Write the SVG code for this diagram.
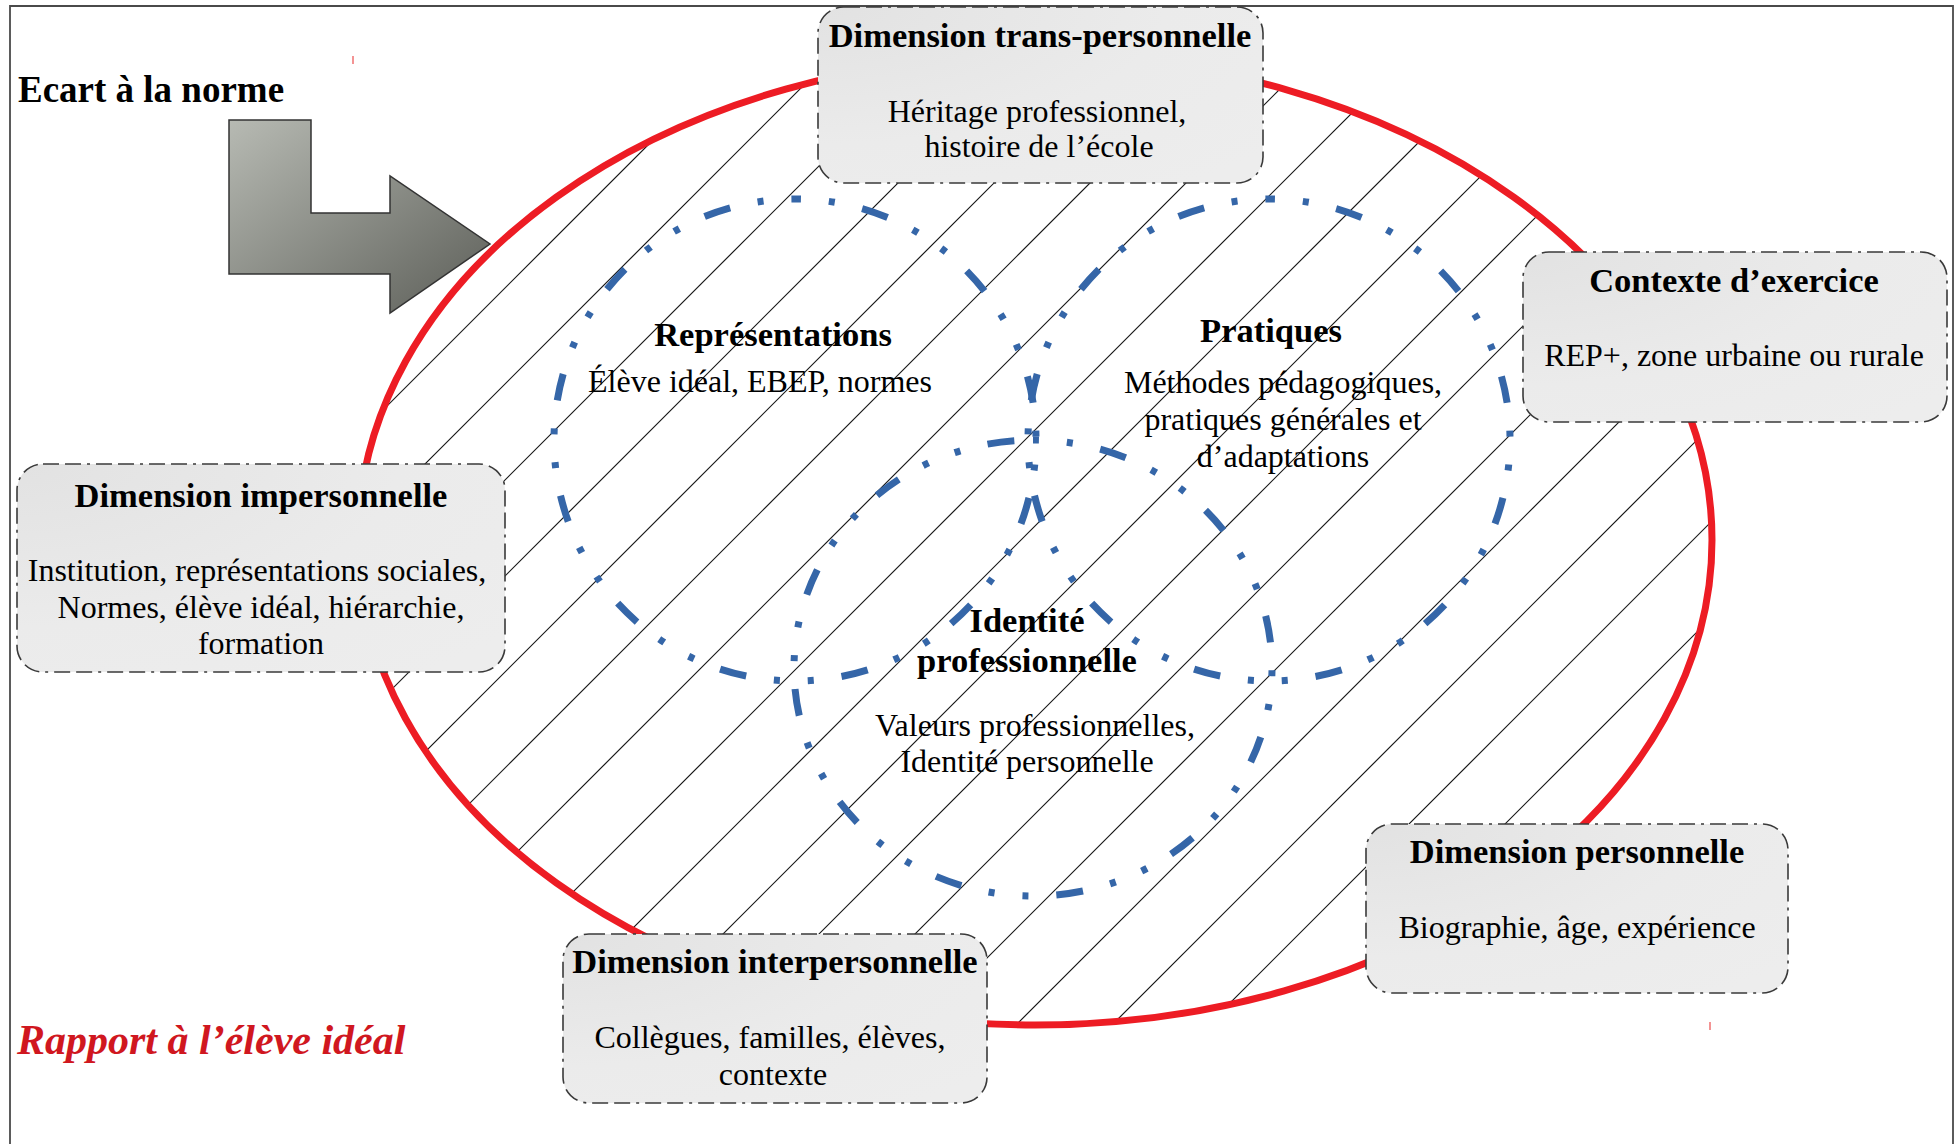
<svg xmlns="http://www.w3.org/2000/svg" width="1960" height="1144" viewBox="0 0 1960 1144">
<defs>
  <style>
    .ttl{font-family:"Liberation Serif","Times New Roman",serif;font-weight:bold;font-size:34.5px;fill:#000;text-anchor:middle}
    .bdy{font-family:"Liberation Serif","Times New Roman",serif;font-size:32px;fill:#000;text-anchor:middle}
    .box{fill:url(#boxGrad);stroke:#3a3a3a;stroke-width:1.6;stroke-dasharray:16 6 16 6 3 6}
    .hatch{fill:none;stroke:#1a1a1a;stroke-width:1.2}
    .blue{fill:none;stroke:#3566A8;stroke-width:7;stroke-dasharray:6 28 6 28 27 28}
  </style>
  <radialGradient id="boxGrad" cx="0" cy="0" r="1.3" gradientUnits="objectBoundingBox">
    <stop offset="0" stop-color="#E2E2E2"/>
    <stop offset="0.6" stop-color="#EBEBEB"/>
    <stop offset="1" stop-color="#EDEDED"/>
  </radialGradient>
  <linearGradient id="arrowGrad" x1="0" y1="0" x2="1" y2="1">
    <stop offset="0" stop-color="#B7BAB3"/>
    <stop offset="1" stop-color="#5C5E58"/>
  </linearGradient>
  <clipPath id="ellClip">
    <ellipse cx="1035" cy="540" rx="677" ry="485"/>
  </clipPath>
</defs>

<rect width="1960" height="1144" fill="#fff"/>
<path d="M10,1144 V6 H1953 V1144" fill="none" stroke="#4a4a4a" stroke-width="1.8"/>

<text x="18" y="102" font-family="Liberation Serif, Times New Roman, serif" font-weight="bold" font-size="37">Ecart à la norme</text>
<text x="17" y="1054" font-family="Liberation Serif, Times New Roman, serif" font-weight="bold" font-style="italic" font-size="42" fill="#D0171F">Rapport à l’élève idéal</text>

<g id="connectors">
  <path d="M229,120 H311 V213 H390 V176 L490,244 L390,313 V274 H229 Z" fill="url(#arrowGrad)" stroke="#333" stroke-width="1.5"/>
</g>

<g id="hatching" clip-path="url(#ellClip)">
  <path class="hatch" d="M-307,1100L793,0M-211,1100L889,0M-115,1100L985,0M-19,1100L1081,0M77,1100L1177,0M173,1100L1273,0M269,1100L1369,0M365,1100L1465,0M461,1100L1561,0M557,1100L1657,0M653,1100L1753,0M749,1100L1849,0M845,1100L1945,0M941,1100L2041,0M1037,1100L2137,0M1133,1100L2233,0M1229,1100L2329,0"/>
</g>

<g id="rapport-ellipse">
  <ellipse cx="1035" cy="540" rx="677" ry="485" fill="none" stroke="#ED1C24" stroke-width="7"/>
</g>

<g id="representations">
  <path class="blue" d="M795,199 A241,241 0 1 1 795,681 A241,241 0 1 1 795,199 Z"/>
  <text class="ttl" x="773" y="346">Représentations</text>
  <text class="bdy" x="760" y="392">Élève idéal, EBEP, normes</text>
</g>

<g id="pratiques">
  <path class="blue" d="M1269,199 A241,241 0 1 1 1269,681 A241,241 0 1 1 1269,199 Z"/>
  <text class="ttl" x="1271" y="342">Pratiques</text>
  <text class="bdy" x="1283" y="393">Méthodes pédagogiques,</text>
  <text class="bdy" x="1283" y="430">pratiques générales et</text>
  <text class="bdy" x="1283" y="467">d’adaptations</text>
</g>

<g id="identite">
  <path class="blue" d="M1033,440 A239,228 0 1 1 1033,896 A239,228 0 1 1 1033,440 Z"/>
  <text class="ttl" x="1027" y="632">Identité</text>
  <text class="ttl" x="1027" y="672">professionnelle</text>
  <text class="bdy" x="1035" y="736">Valeurs professionnelles,</text>
  <text class="bdy" x="1027" y="772">Identité personnelle</text>
</g>

<g id="dim-trans">
  <rect class="box" x="818" y="7" width="445" height="176" rx="26"/>
  <text class="ttl" x="1040" y="47">Dimension trans-personnelle</text>
  <text class="bdy" x="1037" y="122">Héritage professionnel,</text>
  <text class="bdy" x="1039" y="157">histoire de l’école</text>
</g>

<g id="contexte">
  <rect class="box" x="1523" y="252" width="424" height="170" rx="26"/>
  <text class="ttl" x="1734" y="292">Contexte d’exercice</text>
  <text class="bdy" x="1734" y="366">REP+, zone urbaine ou rurale</text>
</g>

<g id="dim-imp">
  <rect class="box" x="17" y="464" width="488" height="208" rx="26"/>
  <text class="ttl" x="261" y="507">Dimension impersonnelle</text>
  <text class="bdy" x="257" y="581">Institution, représentations sociales,</text>
  <text class="bdy" x="261" y="618">Normes, élève idéal, hiérarchie,</text>
  <text class="bdy" x="261" y="654">formation</text>
</g>

<g id="dim-inter">
  <rect class="box" x="563" y="934" width="424" height="169" rx="26"/>
  <text class="ttl" x="775" y="973">Dimension interpersonnelle</text>
  <text class="bdy" x="770" y="1048">Collègues, familles, élèves,</text>
  <text class="bdy" x="773" y="1085">contexte</text>
</g>

<g id="dim-perso">
  <rect class="box" x="1366" y="824" width="422" height="169" rx="26"/>
  <text class="ttl" x="1577" y="863">Dimension personnelle</text>
  <text class="bdy" x="1577" y="938">Biographie, âge, expérience</text>
</g>

<g id="marks" stroke="#F07070" stroke-width="1.5">
  <line x1="353" y1="56" x2="353" y2="64"/>
  <line x1="1710" y1="1022" x2="1710" y2="1030"/>
</g>
</svg>
